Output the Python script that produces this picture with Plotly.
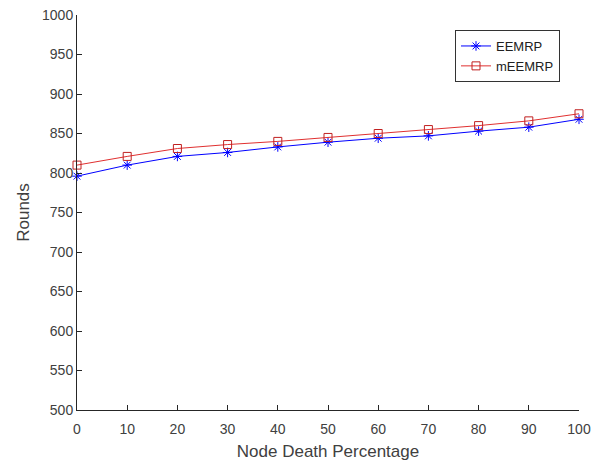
import plotly.graph_objects as go

x_vals = [0, 10, 20, 30, 40, 50, 60, 70, 80, 90, 100]
eemrp = [796, 810, 821, 826, 833, 839, 844, 847, 853, 858, 868]
meemrp = [810, 821, 831, 836, 840, 845, 850, 855, 860, 866, 875]
series_names = ["EEMRP", "mEEMRP"]

fig = go.Figure()
fig.add_trace(go.Scatter(
    x=x_vals, y=eemrp, name=series_names[0], mode="lines+markers", cliponaxis=False,
    line=dict(color="#0000ff", width=1),
    marker=dict(symbol="asterisk-open", size=8, color="#0000ff",
                line=dict(color="#0000ff", width=1)),
))
fig.add_trace(go.Scatter(
    x=x_vals, y=meemrp, name=series_names[1], mode="lines+markers", cliponaxis=False,
    line=dict(color="#e03030", width=1),
    marker=dict(symbol="square-open", size=8, color="#c02020",
                line=dict(color="#c02020", width=1)),
))

fam = "Liberation Sans, Arial, sans-serif"
fig.update_layout(
    width=592, height=461,
    margin=dict(l=77, r=13, t=15, b=51),
    paper_bgcolor="white", plot_bgcolor="white",
    font=dict(family=fam, size=14, color="#404040"),
    showlegend=True,
    legend=dict(
        x=0.753, y=0.962, xanchor="left", yanchor="top",
        bordercolor="#333333", borderwidth=1, bgcolor="white",
        font=dict(family=fam, size=13, color="#202020"),
        tracegroupgap=0, itemwidth=30,
    ),
    xaxis=dict(
        range=[0, 100], tickmode="array", tickvals=x_vals,
        ticks="inside", ticklen=5, tickcolor="#262626",
        showline=True, linecolor="#262626", linewidth=1,
        showgrid=False, zeroline=False, mirror=False,
        ticklabeloverflow="allow", automargin=False, ticklabelstandoff=6,
        title=dict(text="Node Death Percentage", font=dict(size=17, color="#404040"), standoff=10),
    ),
    yaxis=dict(
        range=[500, 1000], tickmode="linear", tick0=500, dtick=50,
        ticks="inside", ticklen=5, tickcolor="#262626",
        showline=True, linecolor="#262626", linewidth=1,
        showgrid=False, zeroline=False, mirror=False,
        ticklabeloverflow="allow", automargin=False,
        title=dict(text="Rounds", font=dict(size=17, color="#404040"), standoff=8),
    ),
)

fig.write_html("out.html", config={"displayModeBar": False},
               post_script="document.body.style.margin='0';")
